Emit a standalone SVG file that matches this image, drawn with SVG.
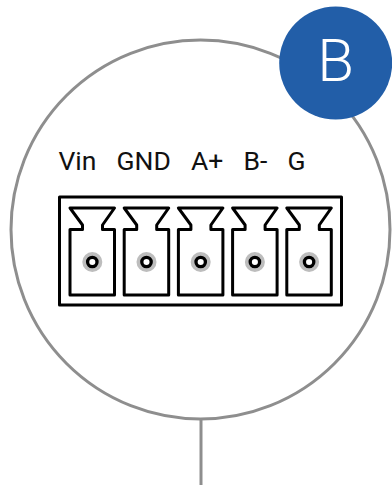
<svg xmlns="http://www.w3.org/2000/svg" width="392" height="486" viewBox="0 0 392 486">
<style>
.l{font-family:Roboto,"Liberation Sans",sans-serif;font-size:26.5px;fill:#111}
.t{fill:none;stroke:#000;stroke-width:3;stroke-linejoin:round}
.w{fill:none;stroke:#8e8e8e;stroke-width:3}
</style>
<defs>
<g id="term">
<path class="t" d="M70 208H114.5L102.5 225V229.5H114.5V295H70V229.5H82.5V225Z"/>
<circle cx="92.3" cy="262" r="10" fill="#bdbdbd"/>
<circle cx="92.3" cy="262" r="4.7" fill="#fff" stroke="#000" stroke-width="3.3"/>
</g>
</defs>
<g id="connectors">
<circle class="w" cx="200.5" cy="229.5" r="189.5"/>
<path class="w" d="M201 420V485"/>
</g>
<g id="connector-block">
<rect class="t" x="59.5" y="197" width="282" height="108"/>
<use href="#term"/>
<use href="#term" x="54.2"/>
<use href="#term" x="108.4"/>
<use href="#term" x="162.6"/>
<use href="#term" x="216.8"/>
</g>
<g id="labels">
<text class="l" x="58.5" y="169.5">Vin</text>
<text class="l" x="116.5" y="169.5">GND</text>
<text class="l" x="191" y="169.5">A+</text>
<text class="l" x="243.5" y="169.5">B-</text>
<text class="l" x="287.5" y="169.5">G</text>
</g>
<g id="badge">
<circle cx="335.7" cy="63" r="56.5" fill="#225ea8"/>
<text x="335.7" y="81" text-anchor="middle" font-family="Roboto,'Liberation Sans',sans-serif" font-size="60" font-weight="300" fill="#fff">B</text>
</g>
</svg>
